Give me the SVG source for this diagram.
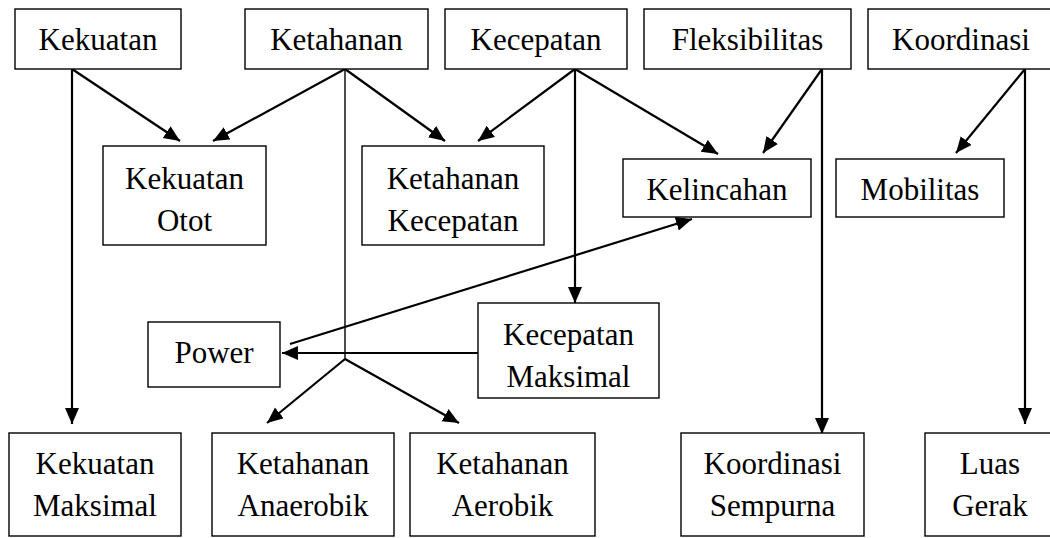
<svg xmlns="http://www.w3.org/2000/svg" width="1050" height="538" viewBox="0 0 1050 538">
<style>
.box{fill:#fff;stroke:#000;stroke-width:1.4}
.t{font-family:"Liberation Serif","Times New Roman",serif;font-size:31px;fill:#000;text-anchor:middle}
.c{stroke:#000;stroke-width:2.2;fill:none}
.thin{stroke:#000;stroke-width:1.4;fill:none}
</style>
<defs>
<marker id="ah" markerUnits="userSpaceOnUse" markerWidth="17" markerHeight="15" refX="16" refY="7" orient="auto" viewBox="0 0 17 15">
<path d="M0,0 L16,7 L0,14 z" fill="#000"/>
</marker>
</defs>
<rect width="1050" height="538" fill="#fff"/>
<g id="connectors">
<line class="c" x1="72" y1="69" x2="72" y2="424" marker-end="url(#ah)"/>
<line class="c" x1="72" y1="69" x2="180" y2="141" marker-end="url(#ah)"/>
<line class="c" x1="345" y1="69" x2="213" y2="141" marker-end="url(#ah)"/>
<line class="c" x1="345" y1="69" x2="445" y2="141" marker-end="url(#ah)"/>
<line class="thin" x1="345" y1="69" x2="345" y2="359"/>
<line class="c" x1="345" y1="359" x2="267" y2="423" marker-end="url(#ah)"/>
<line class="c" x1="345" y1="359" x2="459" y2="423" marker-end="url(#ah)"/>
<line class="c" x1="575" y1="69" x2="478" y2="141" marker-end="url(#ah)"/>
<line class="c" x1="575" y1="69" x2="718" y2="154" marker-end="url(#ah)"/>
<line class="c" x1="575" y1="69" x2="575" y2="303" marker-end="url(#ah)"/>
<line class="c" x1="822" y1="69" x2="763" y2="153" marker-end="url(#ah)"/>
<line class="c" x1="822" y1="69" x2="822" y2="434" marker-end="url(#ah)"/>
<line class="c" x1="1025" y1="69" x2="956" y2="153" marker-end="url(#ah)"/>
<line class="c" x1="1025" y1="69" x2="1025" y2="424" marker-end="url(#ah)"/>
<line class="c" x1="478" y1="353" x2="282" y2="353" marker-end="url(#ah)"/>
<line class="c" x1="290" y1="344" x2="692" y2="219" marker-end="url(#ah)"/>
</g>
<g id="kekuatan"><rect class="box" x="15" y="9" width="166" height="60"/><text class="t" x="98" y="50">Kekuatan</text></g>
<g id="ketahanan"><rect class="box" x="245" y="9" width="183" height="60"/><text class="t" x="336.5" y="50">Ketahanan</text></g>
<g id="kecepatan"><rect class="box" x="445" y="9" width="182" height="60"/><text class="t" x="536" y="50">Kecepatan</text></g>
<g id="fleksibilitas"><rect class="box" x="644" y="9" width="207" height="60"/><text class="t" x="747.5" y="50">Fleksibilitas</text></g>
<g id="koordinasi"><rect class="box" x="868" y="9" width="186" height="60"/><text class="t" x="961" y="50">Koordinasi</text></g>
<g id="kekuatan-otot"><rect class="box" x="103" y="146" width="163" height="99"/><text class="t" x="184.5" y="189">Kekuatan</text><text class="t" x="184.5" y="231">Otot</text></g>
<g id="ketahanan-kecepatan"><rect class="box" x="362" y="146" width="182" height="99"/><text class="t" x="453" y="189">Ketahanan</text><text class="t" x="453" y="231">Kecepatan</text></g>
<g id="kelincahan"><rect class="box" x="623" y="159" width="188" height="58"/><text class="t" x="717" y="200">Kelincahan</text></g>
<g id="mobilitas"><rect class="box" x="836" y="159" width="168" height="58"/><text class="t" x="920" y="200">Mobilitas</text></g>
<g id="power"><rect class="box" x="148" y="322" width="132" height="65"/><text class="t" x="214" y="363">Power</text></g>
<g id="kecepatan-maksimal"><rect class="box" x="478" y="303" width="181" height="95"/><text class="t" x="568.5" y="345">Kecepatan</text><text class="t" x="568.5" y="387">Maksimal</text></g>
<g id="kekuatan-maksimal"><rect class="box" x="9" y="433" width="172" height="103"/><text class="t" x="95" y="474">Kekuatan</text><text class="t" x="95" y="516">Maksimal</text></g>
<g id="ketahanan-anaerobik"><rect class="box" x="212" y="433" width="182" height="103"/><text class="t" x="303" y="474">Ketahanan</text><text class="t" x="303" y="516">Anaerobik</text></g>
<g id="ketahanan-aerobik"><rect class="box" x="410" y="433" width="185" height="103"/><text class="t" x="502.5" y="474">Ketahanan</text><text class="t" x="502.5" y="516">Aerobik</text></g>
<g id="koordinasi-sempurna"><rect class="box" x="681" y="433" width="183" height="103"/><text class="t" x="772.5" y="474">Koordinasi</text><text class="t" x="772.5" y="516">Sempurna</text></g>
<g id="luas-gerak"><rect class="box" x="925" y="433" width="130" height="103"/><text class="t" x="990" y="474">Luas</text><text class="t" x="990" y="516">Gerak</text></g>
</svg>
